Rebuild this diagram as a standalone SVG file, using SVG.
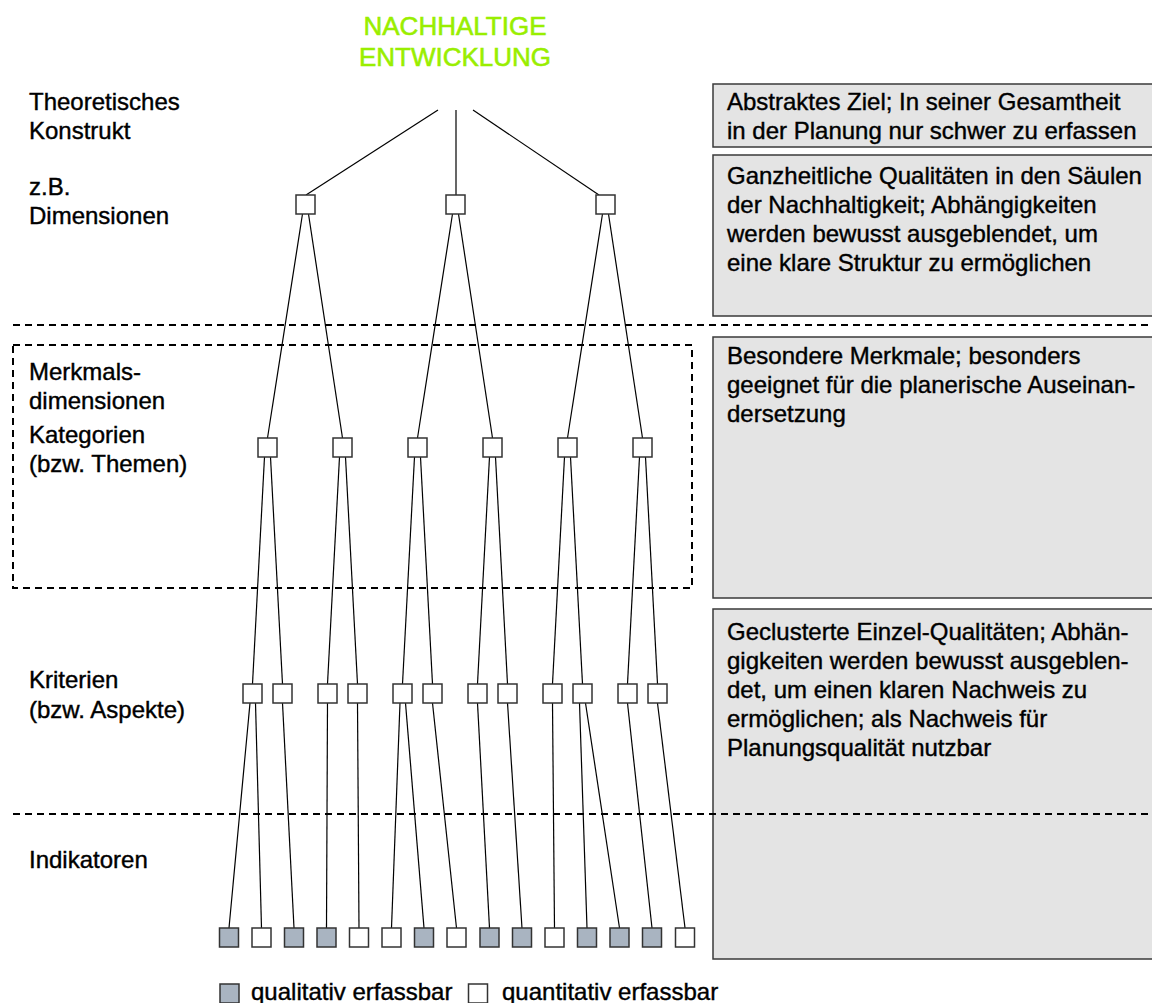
<svg xmlns="http://www.w3.org/2000/svg" width="1152" height="1003" viewBox="0 0 1152 1003">
<style>
text{font-family:"Liberation Sans",Arial,sans-serif;font-size:24px;fill:#000;stroke:#000;stroke-width:0.4}
.title{fill:#99ee00;stroke:#99ee00;stroke-width:0.6;font-size:26px}
.n{fill:#fff;stroke:#333;stroke-width:1.5}
.q{fill:#a9b4c1;stroke:#333;stroke-width:1.5}
.box{fill:#e4e4e4;stroke:#3a3a3a;stroke-width:1.5}
.dash{fill:none;stroke:#000;stroke-width:2;stroke-dasharray:7 5}
#connectors line{stroke:#000;stroke-width:1.2}
</style>
<rect width="1152" height="1003" fill="#fff"/>
<g id="title">
<text class="title" x="455" y="35" text-anchor="middle">NACHHALTIGE</text>
<text class="title" x="455" y="66" text-anchor="middle">ENTWICKLUNG</text>
</g>
<g id="labels">
<text x="29" y="110">Theoretisches</text>
<text x="29" y="139">Konstrukt</text>
<text x="29" y="195">z.B.</text>
<text x="29" y="224">Dimensionen</text>
<text x="29" y="380">Merkmals-</text>
<text x="29" y="409">dimensionen</text>
<text x="29" y="443">Kategorien</text>
<text x="29" y="472">(bzw. Themen)</text>
<text x="29" y="688">Kriterien</text>
<text x="29" y="718">(bzw. Aspekte)</text>
<text x="29" y="868">Indikatoren</text>
</g>
<g id="desc-boxes">
<g id="box1"><rect class="box" x="713" y="84" width="460" height="63"/>
<text x="727" y="110">Abstraktes Ziel; In seiner Gesamtheit</text>
<text x="727" y="139">in der Planung nur schwer zu erfassen</text></g>
<g id="box2"><rect class="box" x="713" y="155" width="460" height="161"/>
<text x="727" y="184">Ganzheitliche Qualitäten in den Säulen</text>
<text x="727" y="213">der Nachhaltigkeit; Abhängigkeiten</text>
<text x="727" y="242">werden bewusst ausgeblendet, um</text>
<text x="727" y="271">eine klare Struktur zu ermöglichen</text></g>
<g id="box3"><rect class="box" x="713" y="337" width="460" height="261"/>
<text x="727" y="364">Besondere Merkmale; besonders</text>
<text x="727" y="393">geeignet für die planerische Auseinan-</text>
<text x="727" y="422">dersetzung</text></g>
<g id="box4"><rect class="box" x="713" y="609" width="460" height="350"/>
<text x="727" y="640">Geclusterte Einzel-Qualitäten; Abhän-</text>
<text x="727" y="669">gigkeiten werden bewusst ausgeblen-</text>
<text x="727" y="698">det, um einen klaren Nachweis zu</text>
<text x="727" y="727">ermöglichen; als Nachweis für</text>
<text x="727" y="756">Planungsqualität nutzbar</text></g>
</g>
<g id="separators">
<line class="dash" x1="13" y1="325" x2="1152" y2="325"/>
<line class="dash" x1="13" y1="814" x2="1152" y2="814"/>
<rect class="dash" x="13" y="345" width="679" height="243"/>
</g>
<g id="connectors">
<line x1="438" y1="110" x2="306" y2="195"/>
<line x1="456" y1="110" x2="456" y2="195"/>
<line x1="473" y1="110" x2="599" y2="195"/>
<line x1="302.5" y1="214" x2="267.5" y2="438"/>
<line x1="308.5" y1="214" x2="342.5" y2="438"/>
<line x1="452.5" y1="214" x2="417.5" y2="438"/>
<line x1="458.5" y1="214" x2="492.5" y2="438"/>
<line x1="602.5" y1="214" x2="567.5" y2="438"/>
<line x1="608.5" y1="214" x2="642.5" y2="438"/>
<line x1="264.5" y1="457" x2="252.5" y2="684"/>
<line x1="270.5" y1="457" x2="282.5" y2="684"/>
<line x1="339.5" y1="457" x2="327.5" y2="684"/>
<line x1="345.5" y1="457" x2="357.5" y2="684"/>
<line x1="414.5" y1="457" x2="402.5" y2="684"/>
<line x1="420.5" y1="457" x2="432.5" y2="684"/>
<line x1="489.5" y1="457" x2="477.5" y2="684"/>
<line x1="495.5" y1="457" x2="507.5" y2="684"/>
<line x1="564.5" y1="457" x2="552.5" y2="684"/>
<line x1="570.5" y1="457" x2="582.5" y2="684"/>
<line x1="639.5" y1="457" x2="627.5" y2="684"/>
<line x1="645.5" y1="457" x2="657.5" y2="684"/>
<line x1="250" y1="703" x2="229" y2="928"/>
<line x1="255.5" y1="703" x2="261.5" y2="928"/>
<line x1="282.5" y1="703" x2="294" y2="928"/>
<line x1="327.5" y1="703" x2="326.5" y2="928"/>
<line x1="357.5" y1="703" x2="359" y2="928"/>
<line x1="400" y1="703" x2="391.5" y2="928"/>
<line x1="405.5" y1="703" x2="424" y2="928"/>
<line x1="432.5" y1="703" x2="456.5" y2="928"/>
<line x1="477.5" y1="703" x2="489.5" y2="928"/>
<line x1="507.5" y1="703" x2="522" y2="928"/>
<line x1="552.5" y1="703" x2="554.5" y2="928"/>
<line x1="579.5" y1="703" x2="587" y2="928"/>
<line x1="585.5" y1="703" x2="619.5" y2="928"/>
<line x1="627.5" y1="703" x2="652" y2="928"/>
<line x1="657.5" y1="703" x2="685" y2="928"/>
</g>
<g id="dimensions">
<rect id="d1" class="n" x="296" y="195" width="19" height="19"/>
<rect id="d2" class="n" x="446" y="195" width="19" height="19"/>
<rect id="d3" class="n" x="596" y="195" width="19" height="19"/>
</g>
<g id="categories">
<rect id="k1" class="n" x="258" y="438" width="19" height="19"/>
<rect id="k2" class="n" x="333" y="438" width="19" height="19"/>
<rect id="k3" class="n" x="408" y="438" width="19" height="19"/>
<rect id="k4" class="n" x="483" y="438" width="19" height="19"/>
<rect id="k5" class="n" x="558" y="438" width="19" height="19"/>
<rect id="k6" class="n" x="633" y="438" width="19" height="19"/>
</g>
<g id="criteria">
<rect id="c1" class="n" x="243" y="684" width="19" height="19"/>
<rect id="c2" class="n" x="273" y="684" width="19" height="19"/>
<rect id="c3" class="n" x="318" y="684" width="19" height="19"/>
<rect id="c4" class="n" x="348" y="684" width="19" height="19"/>
<rect id="c5" class="n" x="393" y="684" width="19" height="19"/>
<rect id="c6" class="n" x="423" y="684" width="19" height="19"/>
<rect id="c7" class="n" x="468" y="684" width="19" height="19"/>
<rect id="c8" class="n" x="498" y="684" width="19" height="19"/>
<rect id="c9" class="n" x="543" y="684" width="19" height="19"/>
<rect id="c10" class="n" x="573" y="684" width="19" height="19"/>
<rect id="c11" class="n" x="618" y="684" width="19" height="19"/>
<rect id="c12" class="n" x="648" y="684" width="19" height="19"/>
</g>
<g id="indicators">
<rect id="i1" class="q" x="219.5" y="928" width="19" height="19"/>
<rect id="i2" class="n" x="252" y="928" width="19" height="19"/>
<rect id="i3" class="q" x="284.5" y="928" width="19" height="19"/>
<rect id="i4" class="q" x="317" y="928" width="19" height="19"/>
<rect id="i5" class="n" x="349.5" y="928" width="19" height="19"/>
<rect id="i6" class="n" x="382" y="928" width="19" height="19"/>
<rect id="i7" class="q" x="414.5" y="928" width="19" height="19"/>
<rect id="i8" class="n" x="447" y="928" width="19" height="19"/>
<rect id="i9" class="q" x="480" y="928" width="19" height="19"/>
<rect id="i10" class="q" x="512.5" y="928" width="19" height="19"/>
<rect id="i11" class="n" x="545" y="928" width="19" height="19"/>
<rect id="i12" class="q" x="577.5" y="928" width="19" height="19"/>
<rect id="i13" class="q" x="610" y="928" width="19" height="19"/>
<rect id="i14" class="q" x="642.5" y="928" width="19" height="19"/>
<rect id="i15" class="n" x="675.5" y="928" width="19" height="19"/>
</g>
<g id="legend">
<rect class="q" x="220" y="984" width="19" height="19"/>
<text x="251" y="1000">qualitativ erfassbar</text>
<rect class="n" x="468.5" y="984" width="19" height="19"/>
<text x="502" y="1000">quantitativ erfassbar</text>
</g>
</svg>
